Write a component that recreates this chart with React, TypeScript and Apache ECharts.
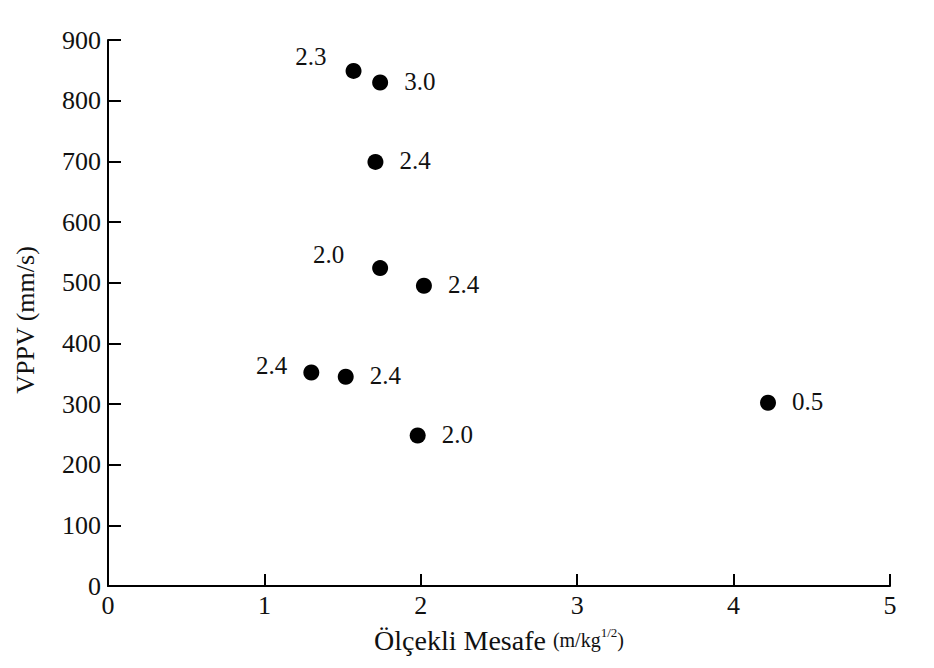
import React, { useEffect, useRef } from "react";
import * as echarts from "echarts";

const xValues = [1.57, 1.74, 1.71, 1.74, 2.02, 1.30, 1.52, 1.98, 4.22];
const yValues = [849, 830, 699, 524, 495, 352, 345, 248, 302];
const pointLabels = ["2.3", "3.0", "2.4", "2.0", "2.4", "2.4", "2.4", "2.0", "0.5"];
const labelSides = ["left", "right", "right", "left", "right", "left", "right", "right", "right"];
const xTicks = [0, 1, 2, 3, 4, 5];
const yTicks = [0, 100, 200, 300, 400, 500, 600, 700, 800, 900];

// label nudges (style only)
const labelNudge: Record<number, [number, number]> = {
  0: [-3, -14],
  3: [-12, -14],
  5: [0, -7],
};

const FONT = "Liberation Serif";

export default function App() {
  const ref = useRef<HTMLDivElement>(null);
  useEffect(() => {
    if (!ref.current) return;
    const chart = echarts.init(ref.current, null, { renderer: "svg" });
    const data = xValues.map((x, i) => {
      const left = labelSides[i] === "left";
      return {
        value: [x, yValues[i]],
        label: {
          show: true,
          formatter: pointLabels[i],
          position: left ? "left" : "right",
          distance: 16,
          offset: labelNudge[i] || [0, -1],
        },
      };
    });
    chart.setOption({
      animation: false,
      backgroundColor: "#ffffff",
      textStyle: { fontFamily: FONT },
      grid: { left: 108, right: 44, top: 40, bottom: 82, containLabel: false },
      xAxis: {
        type: "value",
        min: xTicks[0],
        max: xTicks[xTicks.length - 1],
        interval: 1,
        splitLine: { show: false },
        axisLine: { show: true, onZero: false, lineStyle: { color: "#000", width: 2 } },
        axisTick: { show: true, inside: true, length: 12, lineStyle: { color: "#000", width: 2 } },
        axisLabel: { color: "#111", fontSize: 26, fontFamily: FONT, margin: 6 },
        name: "{a|Ölçekli Mesafe }{b|(m/kg}{c|1/2}{b|)}",
        nameLocation: "middle",
        nameGap: 40,
        nameTextStyle: {
          rich: {
            a: { fontSize: 28, fontFamily: FONT, color: "#111" },
            b: { fontSize: 20, fontFamily: FONT, color: "#111" },
            c: { fontSize: 13, fontFamily: FONT, color: "#111", verticalAlign: "top", padding: [0, 0, 12, 0] },
          },
        },
      },
      yAxis: {
        type: "value",
        min: yTicks[0],
        max: yTicks[yTicks.length - 1],
        interval: 100,
        splitLine: { show: false },
        axisLine: { show: true, onZero: false, lineStyle: { color: "#000", width: 2 } },
        axisTick: { show: true, inside: true, length: 13, lineStyle: { color: "#000", width: 2 } },
        axisLabel: { color: "#111", fontSize: 26, fontFamily: FONT, margin: 7 },
        name: "VPPV (mm/s)",
        nameLocation: "middle",
        nameGap: 70,
        nameRotate: 90,
        nameTextStyle: { fontSize: 26, fontFamily: FONT, color: "#111", padding: [0, 14, 0, 0] },
      },
      series: [
        {
          type: "scatter",
          symbol: "circle",
          symbolSize: 16,
          itemStyle: { color: "#000", opacity: 1 },
          label: { color: "#111", fontSize: 25, fontFamily: FONT },
          data,
        },
      ],
    });
    return () => chart.dispose();
  }, []);
  return <div ref={ref} style={{ width: 934, height: 668, margin: -8 }} />;
}
